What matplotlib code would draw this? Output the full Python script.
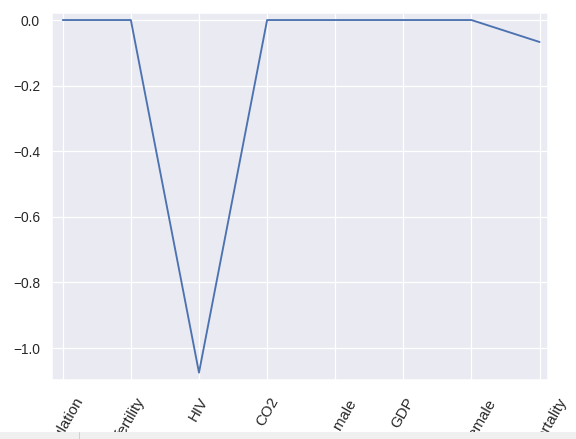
import matplotlib
matplotlib.use("Agg")
import matplotlib.pyplot as plt
import seaborn as sns
from matplotlib.lines import Line2D
from matplotlib.patches import Rectangle

sns.set()
plt.rcParams["font.family"] = ["Liberation Sans", "DejaVu Sans"]

feature_names = ["population", "fertility", "HIV", "CO2", "BMI_male",
                 "GDP", "BMI_female", "child_mortality"]
lasso_coef = [0.0, 0.0, -1.075, 0.0, 0.0, 0.0, 0.0, -0.067]

fig = plt.figure(figsize=(6.4, 4.878), dpi=90)
ax = fig.add_axes([0.09, 0.134, 0.861, 0.836])
ax.plot(range(len(feature_names)), lasso_coef)
ax.set_xticks(range(len(feature_names)))
ax.set_xticklabels(feature_names, rotation=60, fontsize=12)
ax.tick_params(axis="x", pad=6)
ax.set_xlim(-0.16, 7.12)
ax.set_ylim(-1.098, 0.021)

# strip at the bottom edge of the screenshot
strip_h = 7 / 439
fig.patches.append(Rectangle((0, 0), 1, strip_h, transform=fig.transFigure,
                             facecolor="#f0f0f0", edgecolor="none", zorder=10))
fig.lines.append(Line2D([79 / 576, 79 / 576], [0, strip_h], transform=fig.transFigure,
                        color="#d0d0d0", linewidth=0.8, zorder=11))

fig.savefig("out.png", dpi=90)
